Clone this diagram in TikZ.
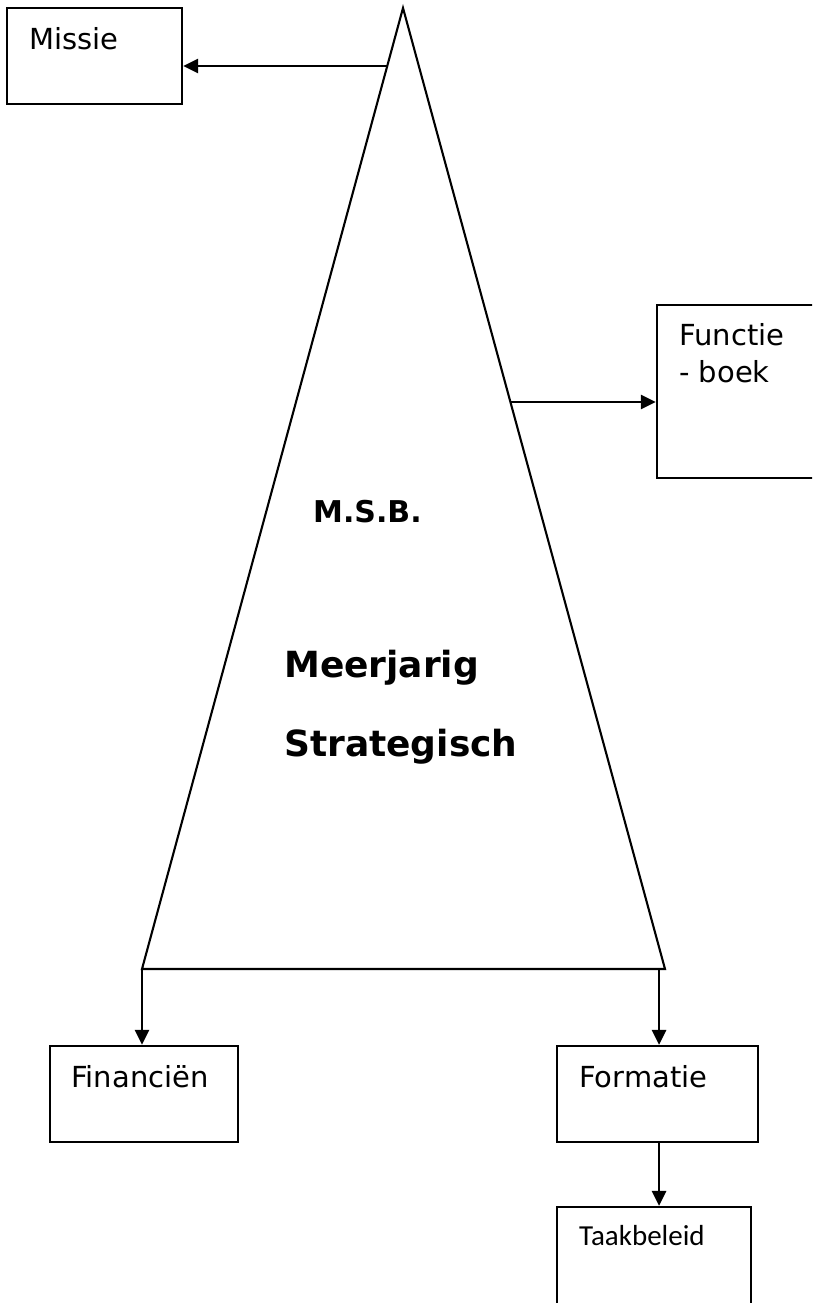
\documentclass[tikz,border=0pt]{standalone}
\usepackage{fontspec}
\setmainfont{DejaVu Sans}
\newfontfamily\calibri{Carlito}
\usetikzlibrary{arrows.meta}

\begin{document}
\begin{tikzpicture}[x=1pt,y=-1pt,>={Triangle[length=15pt,width=14pt]},
box node/.style={rectangle,draw,line width=2.2pt,inner sep=0pt},
txt node/.style={anchor=base west,inner sep=0pt,font=\fontsize{29}{37}\selectfont},
big node/.style={anchor=base west,inner sep=0pt,font=\fontsize{36}{43}\selectfont\bfseries},
link/.style={->,line width=2.8pt}]
\useasboundingbox (0,0) rectangle (812,1303);
\clip (0,0) rectangle (812,1303);
% the triangle
\coordinate (top) at (403,8);
\coordinate (bl) at (142,969);
\coordinate (br) at (665,969);
\draw[line width=2.1pt] (top) -- (bl) -- (br) -- cycle;
\node[txt node,font=\fontsize{30}{36}\selectfont\bfseries] (msb) at (313,522) {M.S.B.};
\node[big node] (meer) at (284,677) {Meerjarig};
\node[big node] (strat) at (284,756) {Strategisch};
% boxes
\node[box node,minimum width=175pt,minimum height=96pt] (missie) at (94.5,56) {};
\node[txt node] (missietxt) at (29,50) {Missie};
\node[box node,minimum width=173pt,minimum height=173pt] (functie) at (743.5,391.5) {};
\node[txt node,align=left] (functietxt) at (679,382) {Functie\\- boek};
\node[box node,minimum width=188pt,minimum height=96pt] (fin) at (144,1094) {};
\node[txt node] (fintxt) at (71,1087) {Financiën};
\node[box node,minimum width=201pt,minimum height=96pt] (form) at (657.5,1094) {};
\node[txt node] (formtxt) at (579,1087) {Formatie};
\node[box node,minimum width=194pt,minimum height=120pt] (taak) at (654,1267) {};
\node[txt node,font=\fontsize{29}{35}\calibri] (taaktxt) at (579,1245) {Taakbeleid};
% arrows
\coordinate (m) at (387,66);
\coordinate (f) at (510,402);
\coordinate (r) at (659,969);
\draw[link] (m) -- (m -| missie.east);
\draw[link] (f) -- (f -| functie.west);
\draw[link] (bl) -- (bl |- fin.north);
\draw[link] (r) -- (r |- form.north);
\draw[link] (r |- form.south) -- (r |- taak.north);
\end{tikzpicture}
\end{document}
